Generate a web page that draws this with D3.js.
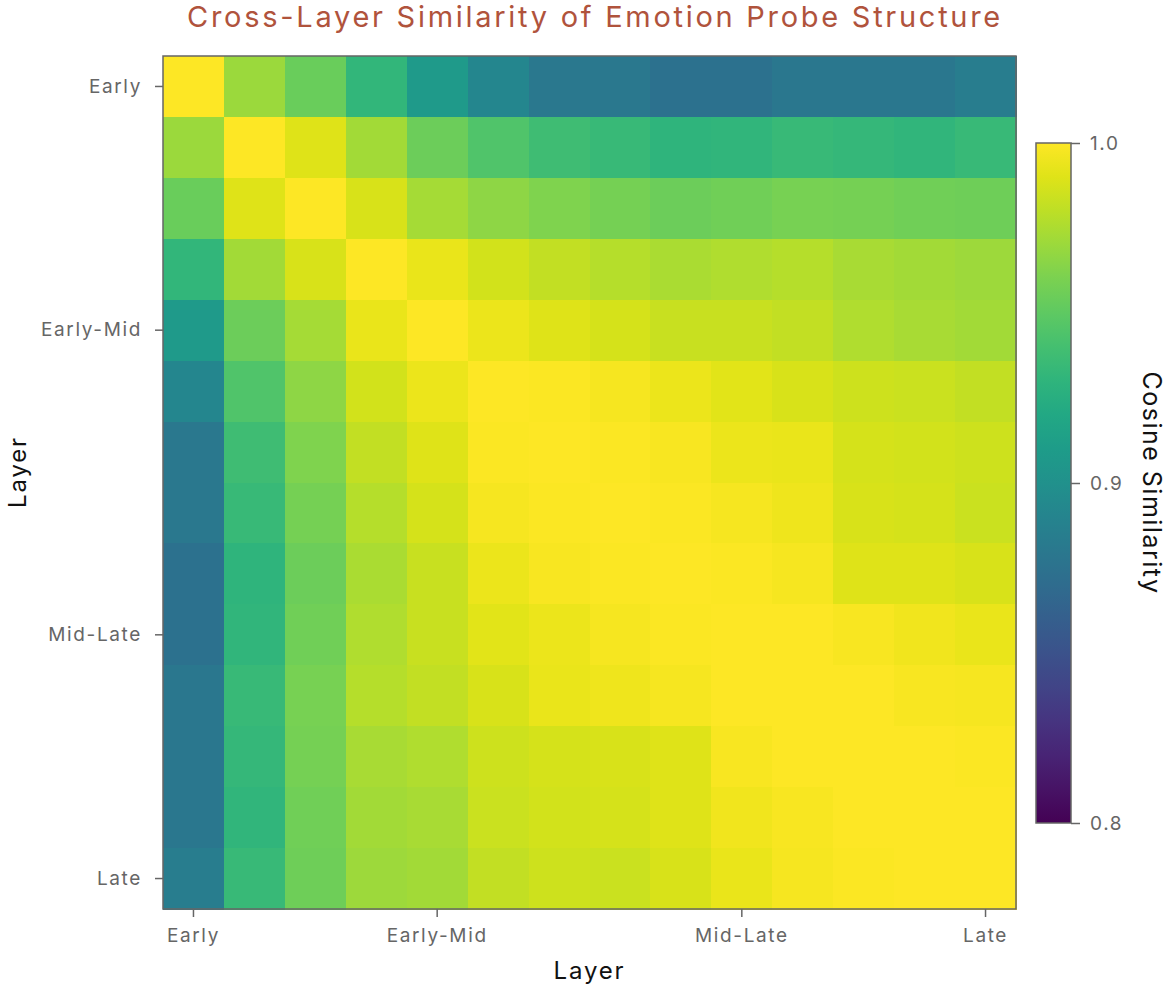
<!DOCTYPE html>
<html>
<head>
<meta charset="utf-8">
<script src="https://cdn.jsdelivr.net/npm/d3@7"></script>
<style>
  body { margin: 0; background: #fff; }
  text { font-family: Inter, "Noto Sans", sans-serif; }
</style>
</head>
<body>
<svg id="heatmap"></svg>
<script>
/* Data */
const layers = d3.range(14);
const tickLayers = [0, 4, 9, 13];
const tickLabels = ["Early", "Early-Mid", "Mid-Late", "Late"];
const colorTicks = [0.8, 0.9, 1.0];

const similarity = [
  [1.000, 0.970, 0.954, 0.932, 0.908, 0.892, 0.880, 0.880, 0.875, 0.875, 0.879, 0.879, 0.879, 0.884],
  [0.970, 1.000, 0.990, 0.972, 0.955, 0.945, 0.938, 0.935, 0.930, 0.931, 0.935, 0.933, 0.931, 0.935],
  [0.954, 0.990, 1.000, 0.988, 0.973, 0.966, 0.961, 0.958, 0.955, 0.957, 0.959, 0.958, 0.957, 0.956],
  [0.932, 0.972, 0.988, 1.000, 0.993, 0.986, 0.982, 0.978, 0.975, 0.976, 0.978, 0.974, 0.972, 0.971],
  [0.908, 0.955, 0.973, 0.993, 1.000, 0.994, 0.990, 0.987, 0.983, 0.983, 0.982, 0.976, 0.974, 0.972],
  [0.892, 0.945, 0.966, 0.986, 0.994, 1.000, 0.999, 0.997, 0.994, 0.991, 0.988, 0.985, 0.984, 0.982],
  [0.880, 0.938, 0.961, 0.982, 0.990, 0.999, 1.000, 0.999, 0.998, 0.994, 0.993, 0.987, 0.986, 0.985],
  [0.880, 0.935, 0.958, 0.978, 0.987, 0.997, 0.999, 1.000, 0.999, 0.997, 0.995, 0.988, 0.987, 0.984],
  [0.875, 0.930, 0.955, 0.975, 0.983, 0.994, 0.998, 0.999, 1.000, 0.999, 0.997, 0.990, 0.990, 0.988],
  [0.875, 0.931, 0.957, 0.976, 0.983, 0.991, 0.994, 0.997, 0.999, 1.000, 1.000, 0.998, 0.996, 0.993],
  [0.879, 0.935, 0.959, 0.978, 0.982, 0.988, 0.993, 0.995, 0.997, 1.000, 1.000, 1.000, 0.998, 0.997],
  [0.879, 0.933, 0.958, 0.974, 0.976, 0.985, 0.987, 0.988, 0.990, 0.998, 1.000, 1.000, 1.000, 0.999],
  [0.879, 0.931, 0.957, 0.972, 0.974, 0.984, 0.986, 0.987, 0.990, 0.996, 0.998, 1.000, 1.000, 1.000],
  [0.884, 0.935, 0.956, 0.971, 0.972, 0.982, 0.985, 0.984, 0.988, 0.993, 0.997, 0.999, 1.000, 1.000]
];

/* Layout */
const W = 1168, H = 989;
const plot = { left: 163, top: 56, size: 853 };
const bar = { left: 1036, top: 143, width: 35, height: 680 };
const grey = "#666";

const svg = d3.select("#heatmap").attr("width", W).attr("height", H);

/* widen a text with letter-spacing until it is targetWidth wide, returns the spacing */
function spread(sel, targetWidth) {
  const node = sel.node();
  const w = node.getComputedTextLength();
  const n = node.textContent.length;
  const ls = Math.max(0, (targetWidth - w) / n);
  sel.style("letter-spacing", ls + "px");
  return ls;
}

/* Scales */
const x = d3.scaleBand().domain(layers).range([plot.left, plot.left + plot.size]);
const y = d3.scaleBand().domain(layers).range([plot.top, plot.top + plot.size]);
const color = d3.scaleSequential(d3.interpolateViridis).domain([0.8, 1.0]);

/* Cells */
const cells = [];
similarity.forEach((row, i) => row.forEach((v, j) => cells.push({ row: i, col: j, value: v })));

svg.append("g")
  .selectAll("rect")
  .data(cells)
  .join("rect")
    .attr("x", d => x(d.col))
    .attr("y", d => y(d.row))
    .attr("width", x.bandwidth() + 0.5)
    .attr("height", y.bandwidth() + 0.5)
    .attr("fill", d => color(d.value))
    .attr("shape-rendering", "crispEdges");

/* Frame */
svg.append("rect")
  .attr("x", plot.left).attr("y", plot.top)
  .attr("width", plot.size).attr("height", plot.size)
  .attr("fill", "none").attr("stroke", grey).attr("stroke-width", 1.5);

/* measure the tick font spacing once, from the widest label */
const probe = svg.append("text").style("font-size", "19px").text("Early-Mid");
const tickSpacing = spread(probe, 101);
probe.remove();

/* Axes */
const xAxis = d3.axisBottom(x).tickValues(tickLayers)
  .tickFormat((d, i) => tickLabels[i]).tickSize(8).tickPadding(12);
const yAxis = d3.axisLeft(y).tickValues(tickLayers)
  .tickFormat((d, i) => tickLabels[i]).tickSize(8).tickPadding(13);

function styleAxis(g) {
  g.select(".domain").remove();
  g.selectAll(".tick line").attr("stroke", grey).attr("stroke-width", 1.5);
  g.selectAll(".tick text").attr("fill", grey)
    .style("font-size", "19px")
    .style("letter-spacing", tickSpacing + "px");
}

svg.append("g")
  .attr("transform", `translate(0,${plot.top + plot.size})`)
  .call(xAxis).call(styleAxis);

svg.append("g")
  .attr("transform", `translate(${plot.left},0)`)
  .call(yAxis).call(styleAxis);

/* Axis titles */
const xTitle = svg.append("text")
  .attr("x", plot.left + plot.size / 2).attr("y", 979)
  .attr("text-anchor", "middle")
  .style("font-size", "24px").attr("fill", "#111")
  .text("Layer");
const titleSpacing = spread(xTitle, 72);

svg.append("text")
  .attr("transform", `translate(26,472) rotate(-90)`)
  .attr("text-anchor", "middle")
  .style("font-size", "24px").attr("fill", "#111")
  .style("letter-spacing", titleSpacing + "px")
  .text("Layer");

/* Title */
const title = svg.append("text")
  .attr("x", 595).attr("y", 27)
  .attr("text-anchor", "middle")
  .attr("fill", "#b0533c")
  .style("font-size", "29px")
  .text("Cross-Layer Similarity of Emotion Probe Structure");
spread(title, 816);

/* Colour bar */
const defs = svg.append("defs");
const grad = defs.append("linearGradient")
  .attr("id", "viridis-grad")
  .attr("x1", 0).attr("y1", 1).attr("x2", 0).attr("y2", 0);
d3.range(0, 1.001, 0.05).forEach(t => {
  grad.append("stop").attr("offset", t).attr("stop-color", d3.interpolateViridis(t));
});

svg.append("rect")
  .attr("x", bar.left).attr("y", bar.top)
  .attr("width", bar.width).attr("height", bar.height)
  .attr("fill", "url(#viridis-grad)")
  .attr("stroke", grey).attr("stroke-width", 1.5);

const cScale = d3.scaleLinear().domain([0.8, 1.0]).range([bar.top + bar.height, bar.top]);
svg.append("g")
  .attr("transform", `translate(${bar.left + bar.width},0)`)
  .call(d3.axisRight(cScale).tickValues(colorTicks).tickFormat(d3.format(".1f")).tickSize(9).tickPadding(10))
  .call(styleAxis);

const cbTitle = svg.append("text")
  .attr("transform", `translate(1143,${bar.top + bar.height / 2}) rotate(90)`)
  .attr("text-anchor", "middle")
  .style("font-size", "25px").attr("fill", "#111")
  .text("Cosine Similarity");
spread(cbTitle, 223);
</script>
</body>
</html>
